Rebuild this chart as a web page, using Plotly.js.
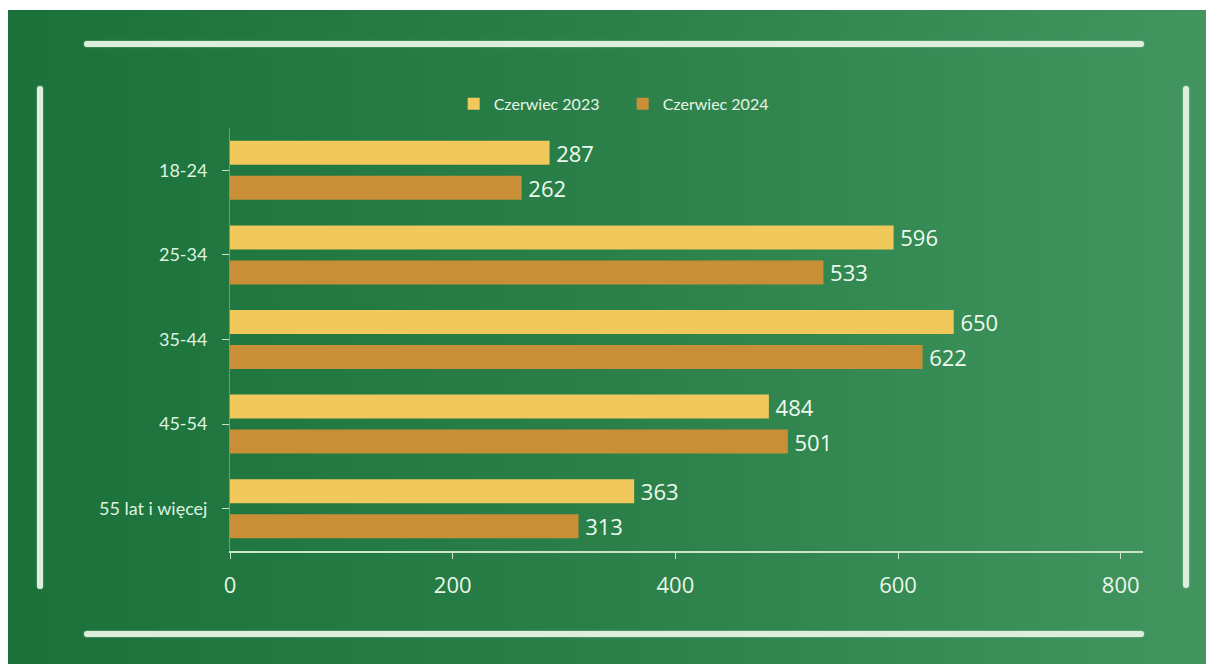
<!DOCTYPE html>
<html>
<head>
<meta charset="utf-8">
<script src="https://cdn.plot.ly/plotly-3.0.1.min.js"></script>
<style>
  html, body { margin: 0; padding: 0; background: #ffffff; }
  #bg { position: absolute; left: 8px; top: 10px; width: 1198px; height: 654px;
        background: linear-gradient(to right, #1a7139 0%, #2a8048 50%, #42955f 100%); }
  #chart { position: absolute; left: 0; top: 0; width: 1206px; height: 664px; }
  .ln { position: absolute; background: #dcefdc; border-radius: 3px; box-shadow: 0 0 2px rgba(220,240,220,0.6); }
</style>
</head>
<body>
<div id="bg"></div>
<div class="ln" style="left:84px; top:41px; width:1060px; height:6px;"></div>
<div class="ln" style="left:84px; top:631px; width:1060px; height:6px;"></div>
<div class="ln" style="left:37px; top:86px; width:6px; height:503px;"></div>
<div class="ln" style="left:1183px; top:86px; width:6px; height:502px;"></div>
<div id="chart"></div>
<script>
const categories = ["18-24", "25-34", "35-44", "45-54", "55 lat i więcej"];
const seriesNames = ["Czerwiec 2023", "Czerwiec 2024"];
const values2023 = [287, 596, 650, 484, 363];
const values2024 = [262, 533, 622, 501, 313];
const xTickVals = [0, 200, 400, 600, 800];

const labelFont = { family: "Open Sans, sans-serif", size: 22, color: "#eefaf0" };

const traces = [
  {
    type: "bar", orientation: "h", name: seriesNames[0],
    y: categories, x: values2023,
    marker: { color: "#f0c85c" },
    text: values2023.map(v => "\u2009" + v), textposition: "outside", constraintext: "none",
    textfont: labelFont, cliponaxis: false, hoverinfo: "x+y"
  },
  {
    type: "bar", orientation: "h", name: seriesNames[1],
    y: categories, x: values2024,
    marker: { color: "#c98f37" },
    text: values2024.map(v => "\u2009" + v), textposition: "outside", constraintext: "none",
    textfont: labelFont, cliponaxis: false, hoverinfo: "x+y"
  }
];

const layout = {
  width: 1206, height: 664,
  paper_bgcolor: "rgba(0,0,0,0)", plot_bgcolor: "rgba(0,0,0,0)",
  margin: { l: 230, r: 63, t: 128, b: 113 },
  barmode: "group", bargap: 0.173, bargroupgap: 0.314,
  showlegend: true,
  legend: {
    orientation: "h", x: 0.245, xanchor: "left", y: 1.057, yanchor: "middle",
    font: { family: "Lato, sans-serif", size: 16, color: "#e6f5e6" },
    bgcolor: "rgba(0,0,0,0)", traceorder: "normal",
    entrywidth: 124, entrywidthmode: "pixels"
  },
  xaxis: {
    range: [0, 820], tickvals: xTickVals, ticktext: xTickVals.map(String),
    showgrid: false, zeroline: false,
    showline: true, linecolor: "#c9e6cc", linewidth: 1.5,
    ticks: "outside", ticklen: 6, tickcolor: "#c9e6cc", tickwidth: 1,
    ticklabelstandoff: 8,
    tickfont: { family: "Open Sans, sans-serif", size: 22, color: "#e8f6e8" },
    fixedrange: true
  },
  yaxis: {
    autorange: "reversed", type: "category",
    showgrid: false, zeroline: false,
    showline: true, linecolor: "#5fa874", linewidth: 1,
    ticks: "outside", ticklen: 7, tickcolor: "#c9e6cc", tickwidth: 1,
    ticklabelstandoff: 11,
    tickfont: { family: "Lato, sans-serif", size: 18, color: "#dff3e0" },
    fixedrange: true
  },
  font: { family: "Lato, sans-serif", color: "#e6f5e6" }
};

Plotly.newPlot("chart", traces, layout, { displayModeBar: false, staticPlot: true });
</script>
</body>
</html>
